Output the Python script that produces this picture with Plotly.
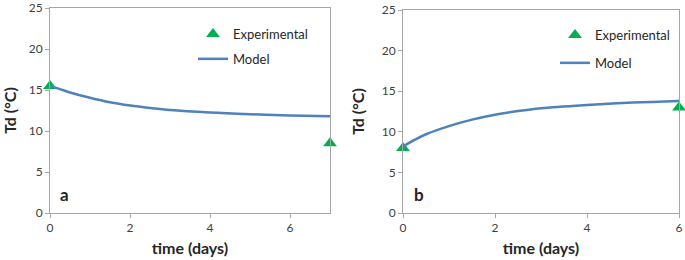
import plotly.graph_objects as go

# Panel a
exp_t_a = [0, 7]
exp_td_a = [15.5, 8.5]
mod_t_a = [0, 0.25, 0.5, 1, 1.5, 2, 2.5, 3, 4, 5, 6, 7]
mod_td_a = [15.5, 15.1, 14.7, 14.05, 13.5, 13.1, 12.8, 12.55, 12.25, 12.05, 11.9, 11.8]

# Panel b
exp_t_b = [0, 6]
exp_td_b = [8.0, 13.0]
mod_t_b = [0, 0.25, 0.5, 1, 1.5, 2, 2.5, 3, 4, 5, 6]
mod_td_b = [8.2, 9.0, 9.7, 10.7, 11.5, 12.1, 12.55, 12.9, 13.3, 13.6, 13.8]

y_ticks = [0, 5, 10, 15, 20, 25]
x_ticks = [0, 2, 4, 6]

GREEN = "#00b050"
BLUE = "#4f81bd"
FONT = "Lato"
AXC = "#a6a6a6"

fig = go.Figure()

fig.add_trace(go.Scatter(x=exp_t_a, y=exp_td_a, mode="markers", name="Experimental",
                         marker=dict(symbol="triangle-up", size=12, color=GREEN),
                         xaxis="x", yaxis="y", legend="legend", legendgroup="e1", cliponaxis=False))
fig.add_trace(go.Scatter(x=mod_t_a, y=mod_td_a, mode="lines", name="Model",
                         line=dict(color=BLUE, width=2.5, shape="spline"),
                         xaxis="x", yaxis="y", legend="legend", legendgroup="m1", cliponaxis=False))
fig.add_trace(go.Scatter(x=exp_t_b, y=exp_td_b, mode="markers", name="Experimental",
                         marker=dict(symbol="triangle-up", size=12, color=GREEN),
                         xaxis="x2", yaxis="y2", legend="legend2", legendgroup="e2", cliponaxis=False))
fig.add_trace(go.Scatter(x=mod_t_b, y=mod_td_b, mode="lines", name="Model",
                         line=dict(color=BLUE, width=2.5, shape="spline"),
                         xaxis="x2", yaxis="y2", legend="legend2", legendgroup="m2", cliponaxis=False))

W, H = 685, 260
def px(x): return x / W
def py(y): return 1 - y / H

axis_common = dict(showgrid=False, zeroline=False, showline=True, linecolor=AXC, linewidth=1,
                   mirror=True, ticks="outside", ticklen=4, tickcolor=AXC, automargin=False,
                   tickfont=dict(family=FONT, size=12, color="#404040"))
title_font = dict(size=16, color="#262626")

fig.update_layout(
    template="none",
    width=W, height=H, margin=dict(l=0, r=0, t=0, b=0, autoexpand=False),
    paper_bgcolor="white", plot_bgcolor="white",
    font=dict(family=FONT),
    xaxis=dict(domain=[px(50), px(330)], range=[0, 7], tickvals=x_ticks, anchor="y",
               title=dict(text="<b>time (days)</b>", font=title_font, standoff=8),
               **axis_common),
    yaxis=dict(domain=[py(213), py(8)], range=[0, 25], tickvals=y_ticks, anchor="x",
               title=dict(text="<b>Td (°C)</b>", font=title_font, standoff=13),
               **axis_common),
    xaxis2=dict(domain=[px(403), px(679)], range=[0, 6], tickvals=x_ticks, anchor="y2",
                title=dict(text="<b>time (days)</b>", font=title_font, standoff=8),
                **axis_common),
    yaxis2=dict(domain=[py(213), py(10)], range=[0, 25], tickvals=y_ticks, anchor="x2",
                title=dict(text="<b>Td (°C)</b>", font=title_font, standoff=13),
                **axis_common),
    legend=dict(x=px(193), y=py(19), xanchor="left", yanchor="top", bgcolor="rgba(0,0,0,0)",
                traceorder="grouped",
                font=dict(family=FONT, size=13, color="#262626"), itemwidth=30, tracegroupgap=5),
    legend2=dict(x=px(555), y=py(20), xanchor="left", yanchor="top", bgcolor="rgba(0,0,0,0)",
                 traceorder="grouped",
                 font=dict(family=FONT, size=13, color="#262626"), itemwidth=30, tracegroupgap=8),
    annotations=[
        dict(text="<b>a</b>", x=px(64.5), y=py(194), xref="paper", yref="paper", showarrow=False,
             xanchor="center", yanchor="middle",
             font=dict(family=FONT, size=17, color="#262626")),
        dict(text="<b>b</b>", x=px(419.5), y=py(194), xref="paper", yref="paper", showarrow=False,
             xanchor="center", yanchor="middle",
             font=dict(family=FONT, size=17, color="#262626")),
    ],
)

fig.write_html("out.html", config={"displayModeBar": False},
               post_script="document.body.style.margin='0';document.body.style.overflow='hidden';")
